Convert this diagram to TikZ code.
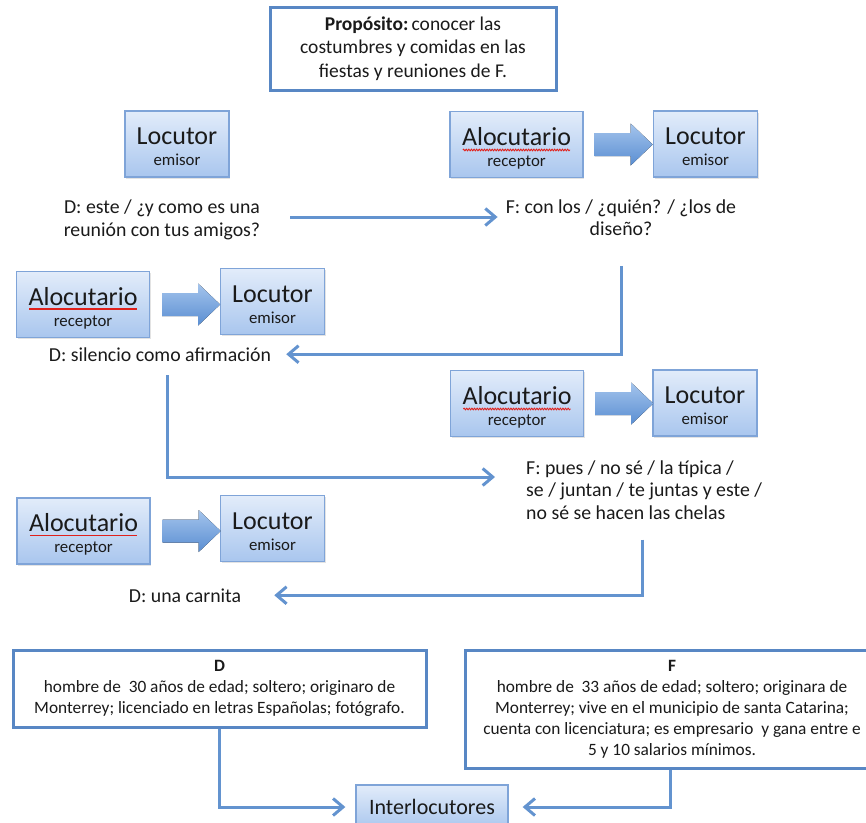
\documentclass[tikz,border=0pt]{standalone}
\usepackage{fontspec}
\setmainfont{Carlito}
\usetikzlibrary{arrows.meta,shadows,decorations.pathmorphing,calc}

\definecolor{lineblue}{HTML}{6393CF}
\definecolor{boxborder}{HTML}{5887C4}
\definecolor{gtop}{HTML}{E2ECFA}
\definecolor{gbot}{HTML}{A9C6EE}
\definecolor{gborder}{HTML}{7FA4D8}
\definecolor{txt}{HTML}{1A1A1A}
\definecolor{bat}{HTML}{A4C4EC}
\definecolor{bab}{HTML}{5A8ED2}
\definecolor{spellred}{HTML}{E0201B}

\tikzset{
  rolebox/.style={draw=gborder, line width=1.3pt, top color=gtop, bottom color=gbot,
    minimum height=66pt, inner sep=0pt, text=txt,
    drop shadow={opacity=0.22, shadow xshift=1.2pt, shadow yshift=-1.8pt}},
  rmain/.style={anchor=base, inner sep=0pt, text=txt, font=\fontsize{26}{28}\selectfont},
  rsub/.style={anchor=base, inner sep=0pt, text=txt, font=\fontsize{16.8}{18}\selectfont},
  infobox/.style={draw=boxborder, line width=3pt, fill=white, align=center, text=txt,
    inner sep=0pt, drop shadow={opacity=0.22, shadow xshift=1.2pt, shadow yshift=-1.8pt}},
  talk/.style={text=txt, inner sep=0pt, align=center, font=\fontsize{19.8}{22.5}\selectfont},
  conn/.style={draw=lineblue, line width=3pt, -{Straight Barb[length=10pt,width=17pt]}},
  redline/.style={draw=spellred, line width=1.6pt},
  redwave/.style={draw=spellred, line width=0.9pt, decorate,
    decoration={snake, amplitude=0.8pt, segment length=2.6pt}},
  blockarr/.pic={\fill[top color=bat, bottom color=bab]
    (0,-11.5) -- (36,-11.5) -- (36,-21) -- (58,0) -- (36,21) -- (36,11.5) -- (0,11.5) -- cycle;},
}

\newcommand\mkrole[5]{%
  \node[rolebox, minimum width=#5] (#1) at (#2) {};
  \node[rmain] (#1-m) at ($(#1.center)+(0,0.5)$) {#3};
  \node[rsub] (#1-s) at ($(#1.center)+(0,21.5)$) {#4};
}

\begin{document}
\begin{tikzpicture}[x=1pt,y=-1pt]
\useasboundingbox (0,0) rectangle (866,822);

% purpose
\node[infobox, minimum width=286pt, minimum height=83pt,
  font=\fontsize{19.5}{23.5}\selectfont] (prop) at (413,48.5)
  {\textbf{Propósito:}\,conocer las\\costumbres y comidas en las\\fiestas y reuniones de F.};

% row 1
\mkrole{l1}{177,144}{Locutor}{emisor}{104pt}
\mkrole{a1}{516.5,144.5}{Alocutario}{receptor}{133pt}
\mkrole{l2}{705.5,144}{Locutor}{emisor}{104pt}
\pic at ($(a1.east)+(11,0)$) {blockarr};
\draw[redwave] ($(a1-m.base west)+(1,5)$) -- ($(a1-m.base east)+(-1,5)$);

\node[talk] (t1) at (162,220) {D: este / ¿y como es una\\reunión con tus amigos?};
\node[talk] (t2) at (621,217.5) {F: con los / ¿quién? / ¿los de\\diseño?};

% row 2
\mkrole{a2}{83,304.5}{Alocutario}{receptor}{133pt}
\mkrole{l3}{272.5,301.5}{Locutor}{emisor}{104pt}
\pic at ($(a2.east)+(12,0)$) {blockarr};
\draw[redline] ($(a2-m.base west)+(1,4)$) -- ($(a2-m.base east)+(-1,4)$);
\node[talk, anchor=base] (t3) at (160,361) {D: silencio como afirmación};

% row 3
\mkrole{a3}{517,403.5}{Alocutario}{receptor}{133pt}
\mkrole{l4}{705,403}{Locutor}{emisor}{104pt}
\pic at ($(a3.east)+(11,0)$) {blockarr};
\draw[redwave] ($(a3-m.base west)+(1,5)$) -- ($(a3-m.base east)+(-1,5)$);
\node[talk, align=left, anchor=west] (t4) at (526,490)
  {F: pues / no sé / la típica /\\se / juntan / te juntas y este /\\no sé se hacen las chelas};

% row 4
\mkrole{a4}{83.5,531}{Alocutario}{receptor}{133pt}
\mkrole{l5}{272.5,528.5}{Locutor}{emisor}{104pt}
\pic at ($(a4.east)+(12,0)$) {blockarr};
\draw[redline] ($(a4-m.base west)+(1,4)$) -- ($(a4-m.base east)+(-1,4)$);
\node[talk, anchor=base] (t5) at (185,602) {D: una carnita};

% info boxes
\node[infobox, minimum width=413pt, minimum height=77pt,
  font=\fontsize{17.3}{21}\selectfont] (dbox) at (219.5,688.5)
  {\textbf{D}\\hombre de\ \ 30 años de edad; soltero; originaro de\\Monterrey; licenciado en letras Españolas; fotógrafo.};
\node[infobox, minimum width=414pt, minimum height=118pt,
  font=\fontsize{17.3}{21}\selectfont] (fbox) at (672,709)
  {\textbf{F}\\hombre de\ \ 33 años de edad; soltero; originara de\\Monterrey; vive en el municipio de santa Catarina;\\cuenta con licenciatura; es empresario\ \ y gana entre e\\5 y 10 salarios mínimos.};
\node[rolebox, minimum width=152pt, minimum height=44pt,
  font=\fontsize{22}{24}\selectfont] (inter) at (432,807) {Interlocutores};

% connectors
\draw[conn] ([xshift=30pt,yshift=3pt]t1.east) -- ([xshift=-8pt,yshift=3pt]t1.east -| t2.west);
\draw[conn] ([yshift=-30pt]t2.south) |- ([xshift=15pt]t3.east);
\draw[conn] ([xshift=7pt,yshift=-14pt]t3.south) |- ([xshift=-31pt,yshift=13pt]t4.west);
\draw[conn] ([xshift=-2pt,yshift=-20pt]t4.south) |- ([xshift=33pt]t5.east);
\draw[conn] (dbox.south) |- ([xshift=-10pt]inter.west);
\draw[conn] ([xshift=-2pt]fbox.south) |- ([xshift=14pt]inter.east);
\end{tikzpicture}
\end{document}
